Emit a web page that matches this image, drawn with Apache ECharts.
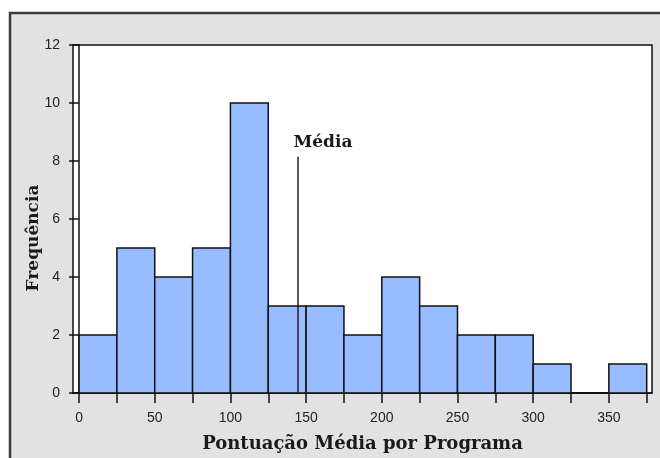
<!DOCTYPE html>
<html>
<head>
<meta charset="utf-8">
<script src="https://cdn.jsdelivr.net/npm/echarts@6/dist/echarts.min.js"></script>
<style>
  html, body { margin: 0; padding: 0; background: #fff; }
  #chart { width: 660px; height: 458px; }
</style>
</head>
<body>
<div id="chart"></div>
<script>
// histogram bins (Pontuação Média por Programa)
const binEdges = [0, 25, 50, 75, 100, 125, 150, 175, 200, 225, 250, 275, 300, 325, 350, 375];
const counts = [2, 5, 4, 5, 10, 3, 3, 2, 4, 3, 2, 2, 1, 0, 1];
const xLabels = [0, 50, 100, 150, 200, 250, 300, 350];
const meanValue = 144.6;
const meanLineTop = 8.15;

window.addEventListener('load', () => {
  const chart = echarts.init(document.getElementById('chart'));

  const bins = counts.map((c, i) => [binEdges[i], binEdges[i + 1], c]);

  const serif = '"DejaVu Serif", "Liberation Serif", serif';
  const sans = '"Liberation Sans", Arial, sans-serif';

  const option = {
    backgroundColor: '#fff',
    animation: false,
    graphic: [
      {
        type: 'rect',
        z: -10,
        shape: { x: 10, y: 13, width: 660, height: 460 },
        style: { fill: '#e2e2e2', stroke: '#3c3c3c', lineWidth: 2.5 }
      }
    ],
    grid: {
      left: 73, right: 8, top: 45, bottom: 65,
      show: true,
      backgroundColor: '#fff',
      borderColor: '#111',
      borderWidth: 1.5
    },
    xAxis: {
      type: 'value',
      min: -4,
      max: 378.5,
      name: 'Pontuação Média por Programa',
      nameLocation: 'middle',
      nameGap: 42,
      nameMoveOverlap: false,
      nameTextStyle: { fontFamily: serif, fontWeight: 'bold', fontSize: 18, color: '#1a1a1a' },
      axisLine: { show: true, onZero: false, lineStyle: { color: '#111', width: 1.5 } },
      axisTick: { show: true, customValues: binEdges, length: 10, lineStyle: { color: '#111', width: 1.5 } },
      axisLabel: { customValues: xLabels, fontFamily: sans, fontSize: 14, color: '#222', margin: 18 },
      splitLine: { show: false }
    },
    yAxis: {
      type: 'value',
      min: 0,
      max: 12,
      interval: 2,
      name: 'Frequência',
      nameLocation: 'middle',
      nameGap: 31,
      nameMoveOverlap: false,
      nameTextStyle: { fontFamily: serif, fontWeight: 'bold', fontSize: 17, color: '#1a1a1a', padding: [0, 38, 0, 0] },
      axisLine: { show: true, lineStyle: { color: '#111', width: 1.5 } },
      axisTick: { show: true, length: 10, lineStyle: { color: '#111', width: 1.5 } },
      axisLabel: { fontFamily: sans, fontSize: 14, color: '#222', margin: 13 },
      splitLine: { show: false }
    },
    series: [
      {
        type: 'custom',
        data: bins,
        encode: { x: [0, 1], y: 2 },
        renderItem: (params, api) => {
          const p0 = api.coord([api.value(0), api.value(2)]);
          const p1 = api.coord([api.value(1), 0]);
          return {
            type: 'rect',
            shape: { x: p0[0], y: p0[1], width: p1[0] - p0[0], height: p1[1] - p0[1] },
            style: { fill: '#97bcff', stroke: '#111', lineWidth: 1.5 }
          };
        },
        markLine: {
          silent: true,
          symbol: 'none',
          lineStyle: { color: '#222', width: 1.5, type: 'solid' },
          label: {
            show: true,
            position: 'end',
            formatter: 'Média',
            distance: 6,
            padding: [0, 0, 0, 50],
            fontFamily: serif,
            fontWeight: 'bold',
            fontSize: 17,
            color: '#1a1a1a'
          },
          data: [
            [{ coord: [meanValue, 0] }, { coord: [meanValue, meanLineTop] }]
          ]
        }
      }
    ]
  };

  chart.setOption(option);
});
</script>
</body>
</html>
